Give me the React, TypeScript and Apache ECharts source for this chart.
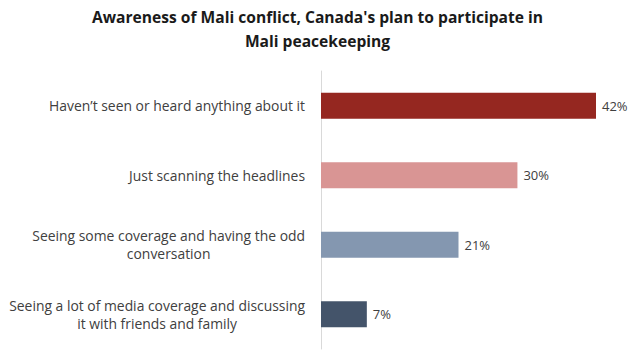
import React, { useEffect, useRef } from "react";
import * as echarts from "echarts";

const categories = [
  "Haven\u2019t seen or heard anything about it",
  "Just scanning the headlines",
  "Seeing some coverage and having the odd\nconversation",
  "Seeing a lot of media coverage and discussing\nit with friends and family",
];
const values = [42, 30, 21, 7];
const barColors = ["#952720", "#D99594", "#8497B0", "#44546A"];
const titleText = "Awareness of Mali conflict, Canada's plan to participate in\nMali peacekeeping";

export default function App() {
  const ref = useRef<HTMLDivElement>(null);
  useEffect(() => {
    document.body.style.margin = "0";
    if (!ref.current) return;
    const chart = echarts.init(ref.current, null, { renderer: "svg" });
    chart.setOption({
      animation: false,
      backgroundColor: "#ffffff",
      title: {
        text: titleText,
        left: "center",
        top: 0,
        textStyle: {
          fontFamily: "Open Sans",
          fontWeight: "bold",
          fontSize: 15.6,
          lineHeight: 24,
          color: "#1a1a1a",
        },
      },
      grid: { left: 321, right: 39, top: 71, bottom: 8 },
      xAxis: {
        type: "value",
        min: 0,
        max: 42,
        show: false,
      },
      yAxis: {
        type: "category",
        inverse: true,
        data: categories,
        axisLine: { show: true, lineStyle: { color: "#d9d9d9", width: 1 } },
        axisTick: { show: false },
        axisLabel: {
          margin: 16,
          fontFamily: "Open Sans",
          fontSize: 13.9,
          lineHeight: 18,
          color: "#404040",
          align: "right",
          formatter: (v: string) =>
            v
              .split("\n")
              .map((l) => "{c|" + l + "}")
              .join("\n"),
          rich: {
            c: {
              align: "center",
              fontFamily: "Open Sans",
              fontSize: 13.9,
              lineHeight: 18,
              color: "#404040",
            },
          },
        },
      },
      series: [
        {
          type: "bar",
          data: values.map((v, i) => ({ value: v, itemStyle: { color: barColors[i] } })),
          barWidth: 26,
          label: {
            show: true,
            position: "right",
            distance: 6,
            formatter: "{c}%",
            fontFamily: "Open Sans",
            fontSize: 13,
            color: "#404040",
          },
        },
      ],
    });
    return () => chart.dispose();
  }, []);
  return <div ref={ref} style={{ width: 635, height: 357 }} />;
}
